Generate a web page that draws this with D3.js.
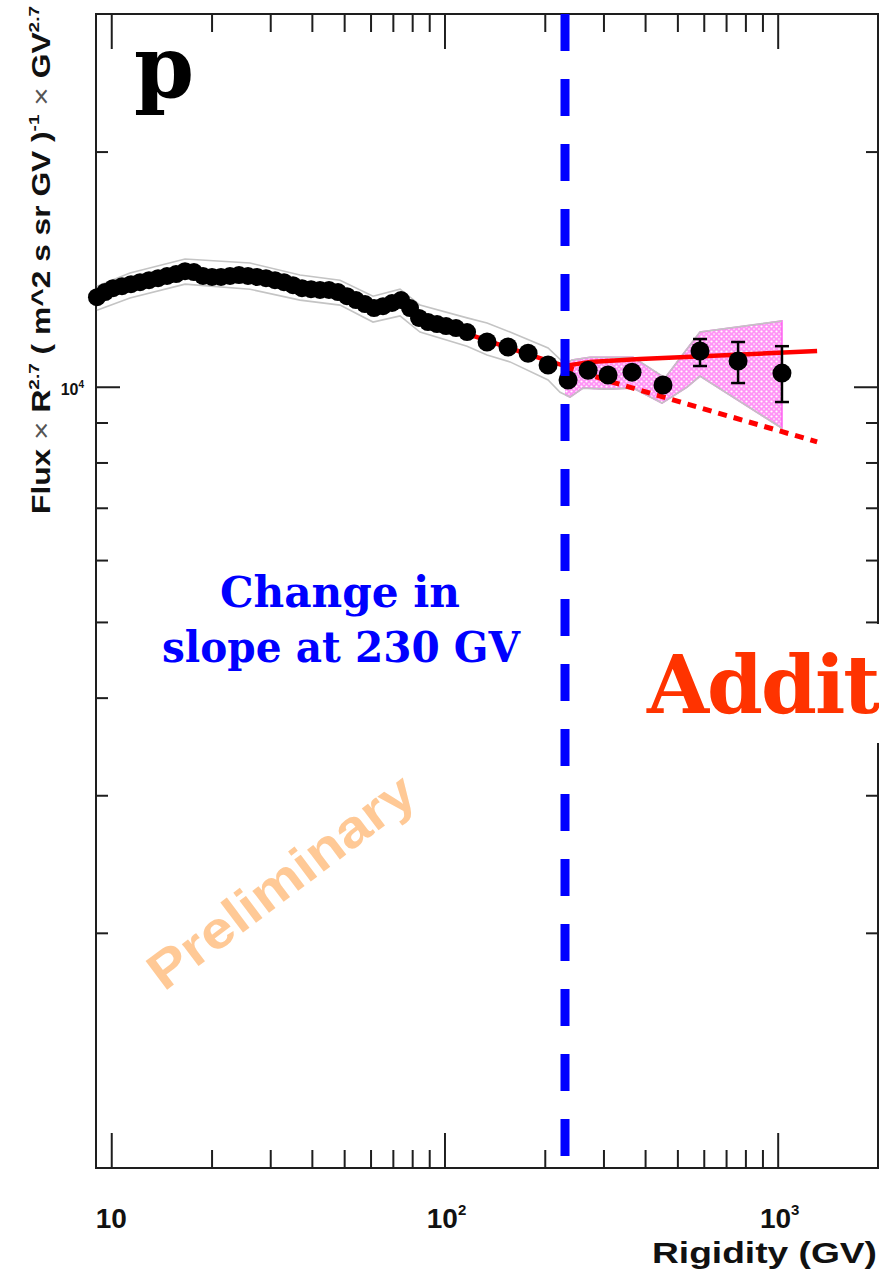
<!DOCTYPE html>
<html>
<head>
<meta charset="utf-8">
<script src="https://cdn.jsdelivr.net/npm/d3@7"></script>
<style>
  html, body { margin: 0; padding: 0; background: #fff; }
  svg { display: block; }
</style>
</head>
<body>
<svg id="chart" width="879" height="1271"></svg>
<script>
// Proton flux multiplied by R^2.7 versus rigidity (GV)
const rigidity = [9.06, 9.58, 10.12, 10.77, 11.46, 12.20, 12.98, 13.82, 14.70, 15.65,
  16.65, 17.71, 18.85, 20.06, 21.35, 22.72, 24.18, 25.73, 27.39, 29.14,
  31.01, 33.00, 35.11, 37.36, 39.77, 42.31, 45.03, 47.92, 50.99, 54.26,
  57.74, 61.45, 65.39, 69.60, 74.07, 78.82, 83.88, 89.26, 94.99, 101.1,
  108.3, 116.9, 134.2, 155.1, 178.2, 204.6, 234.9, 269.8, 309.7, 365.5,
  452.7, 584.7, 760.6, 1030];
const flux = [13020, 13220, 13370, 13450, 13530, 13610, 13690, 13770, 13860, 13940,
  14060, 14020, 13860, 13820, 13820, 13860, 13900, 13860, 13820, 13770,
  13690, 13610, 13490, 13370, 13330, 13300, 13300, 13220, 13060, 12910,
  12760, 12610, 12680, 12800, 12910, 12610, 12250, 12100, 12030, 11960,
  11890, 11750, 11410, 11240, 11040, 10660, 10200, 10500, 10350, 10440,
  10050, 11110, 10790, 10410];

// statistical error bars on the highest-rigidity points
const errRigidity = [584.7, 760.6, 1030];
const errLow = [10630, 10110, 9560];
const errHigh = [11510, 11410, 11270];

// systematic uncertainty band
const bandUpperR = [9.06, 11.38, 16.65, 26.09, 36.85, 48.60, 61.03, 73.56, 84.45, 116.9,
  134.2, 157.3, 204.6, 230.0, 241.4, 273.4, 368.1, 459.1, 545.7, 584.7, 1030];
const bandUpper = [13450, 13980, 14570, 14400, 13900, 13690, 13060, 13330, 12720, 12250,
  12070, 11750, 11210, 10690, 10820, 10910, 10910, 10260, 11310, 11750, 12140];
const bandLowerR = [9.06, 11.38, 16.65, 26.09, 36.85, 48.60, 61.03, 73.56, 84.45, 116.9,
  134.2, 157.3, 204.6, 222.3, 238.1, 260.5, 307.5, 368.1, 449.6, 534.5, 584.7, 1030];
const bandLower = [12530, 12990, 13530, 13330, 12910, 12720, 12100, 12320, 11750, 11270,
  10980, 10760, 10200, 9840, 9700, 9960, 9930, 9960, 9530, 9990, 10320, 8850];

// fits: broken power law (solid) and single power law extrapolation (dashed)
const fitSolidR = [100, 146.8, 193.5, 230, 273.4, 386.3, 509.2, 1313];
const fitSolid = [11960, 11310, 10880, 10630, 10760, 10850, 10910, 11110];
const fitDashedR = [230, 318.4, 1313];
const fitDashed = [10600, 10140, 8500];

const breakRigidity = 230;

// axis ticks and labels
const xMajor = [10, 100, 1000];
const xMinor = [20, 30, 40, 50, 60, 70, 80, 90, 200, 300, 400, 500, 600, 700, 800, 900];
const xLabelBase = ["10", "10", "10"];
const xLabelExp = ["", "2", "3"];
const yMajor = [10000];
const yMinor = [2000, 3000, 4000, 5000, 6000, 7000, 8000, 9000, 20000];
const yLabelBase = ["10"];
const yLabelExp = ["4"];

const L = 96, R = 878, T = 14, B = 1168;
const x = d3.scaleLog().domain([9, 2000]).range([L, R]);
const y = d3.scaleLog().domain([1000, 30000]).range([B, T]);

const svg = d3.select("#chart");
const defs = svg.append("defs");

// dotted magenta hatch
const pat = defs.append("pattern").attr("id", "dots").attr("patternUnits", "userSpaceOnUse")
  .attr("width", 5).attr("height", 5);
pat.append("rect").attr("width", 5).attr("height", 5).attr("fill", "#ff94f6");
pat.append("circle").attr("cx", 1.5).attr("cy", 1.5).attr("r", 1.1).attr("fill", "#ffffff");
pat.append("circle").attr("cx", 4).attr("cy", 4).attr("r", 0.9).attr("fill", "#ffe0fb");

defs.append("clipPath").attr("id", "aboveBreak").append("rect")
  .attr("x", x(breakRigidity)).attr("y", T).attr("width", R - x(breakRigidity)).attr("height", B - T);

const sans = "'Liberation Sans', Arial, Helvetica, sans-serif";
const serif = "'DejaVu Serif', serif";

// ---- ticks ----
function ticks(axisFn, values, size, tr) {
  svg.append("g").attr("transform", tr)
    .call(axisFn(axisFn === d3.axisBottom || axisFn === d3.axisTop ? x : y)
      .tickValues(values).tickSize(size).tickFormat(""))
    .call(a => a.select(".domain").remove())
    .call(a => a.selectAll("line").attr("stroke", "#1e1e1e").attr("stroke-width", 2));
}
ticks(d3.axisBottom, xMajor, -35, `translate(0,${B})`);
ticks(d3.axisBottom, xMinor, -18, `translate(0,${B})`);
ticks(d3.axisTop, xMajor, -35, `translate(0,${T})`);
ticks(d3.axisTop, xMinor, -18, `translate(0,${T})`);
ticks(d3.axisLeft, yMajor, -24, `translate(${L},0)`);
ticks(d3.axisLeft, yMinor, -12, `translate(${L},0)`);
ticks(d3.axisRight, yMajor, -24, `translate(${R},0)`);
ticks(d3.axisRight, yMinor, -12, `translate(${R},0)`);

svg.append("rect").attr("x", L).attr("y", T).attr("width", R - L).attr("height", B - T)
  .attr("fill", "none").attr("stroke", "#1e1e1e").attr("stroke-width", 2);

// ---- tick labels ----
xMajor.forEach((v, i) => {
  const t = svg.append("text").attr("x", x(v) + (xLabelExp[i] ? 2 : 0)).attr("y", 1228)
    .attr("text-anchor", "middle").attr("font-family", sans).attr("font-weight", "bold")
    .attr("font-size", 28).attr("fill", "#111");
  t.append("tspan").text(xLabelBase[i]);
  if (xLabelExp[i]) t.append("tspan").attr("dy", -13).attr("font-size", 15).text(xLabelExp[i]);
});
yMajor.forEach((v, i) => {
  const t = svg.append("text").attr("x", 84).attr("y", y(v) + 8)
    .attr("text-anchor", "end").attr("font-family", sans).attr("font-weight", "bold")
    .attr("font-size", 16).attr("fill", "#111");
  t.append("tspan").text(yLabelBase[i]);
  t.append("tspan").attr("dy", -7).attr("font-size", 10).text(yLabelExp[i]);
});

// ---- axis titles ----
svg.append("text").attr("x", 877).attr("y", 1263).attr("text-anchor", "end")
  .attr("font-family", sans).attr("font-weight", "bold").attr("font-size", 29).attr("fill", "#111")
  .attr("textLength", 225).attr("lengthAdjust", "spacingAndGlyphs")
  .text("Rigidity (GV)");

const yt = svg.append("text").attr("transform", "translate(50,6) rotate(-90)")
  .attr("text-anchor", "end").attr("font-family", sans).attr("font-weight", "bold")
  .attr("font-size", 25).attr("fill", "#111")
  .attr("textLength", 508).attr("lengthAdjust", "spacingAndGlyphs");
yt.append("tspan").text("Flux ");
yt.append("tspan").attr("font-weight", "normal").attr("fill", "#555").text("×");
yt.append("tspan").text(" R");
yt.append("tspan").attr("dy", -11).attr("font-size", 15).text("2.7");
yt.append("tspan").attr("dy", 11).text(" ( m^2 s sr GV )");
yt.append("tspan").attr("dy", -11).attr("font-size", 15).text("-1");
yt.append("tspan").attr("dy", 11).text(" ");
yt.append("tspan").attr("font-weight", "normal").attr("fill", "#555").text("×");
yt.append("tspan").text(" GV");
yt.append("tspan").attr("dy", -11).attr("font-size", 15).text("2.7");

// ---- systematic band ----
const upperPts = bandUpperR.map((r, i) => [x(r), y(bandUpper[i])]);
const lowerPts = bandLowerR.map((r, i) => [x(r), y(bandLower[i])]);
const poly = upperPts.concat(lowerPts.slice().reverse());
svg.append("path").attr("d", "M" + poly.join("L") + "Z")
  .attr("fill", "url(#dots)").attr("stroke", "#ff5cf2").attr("stroke-width", 1.5)
  .attr("clip-path", "url(#aboveBreak)");
const line = d3.line();
svg.append("path").attr("d", line(upperPts)).attr("fill", "none")
  .attr("stroke", "#c4c4c4").attr("stroke-width", 1.6);
svg.append("path").attr("d", line(lowerPts)).attr("fill", "none")
  .attr("stroke", "#c4c4c4").attr("stroke-width", 1.6);

// ---- fits ----
svg.append("path").attr("d", line(fitDashedR.map((r, i) => [x(r), y(fitDashed[i])])))
  .attr("fill", "none").attr("stroke", "#ff0000").attr("stroke-width", 5)
  .attr("stroke-dasharray", "9 7");
svg.append("path").attr("d", line(fitSolidR.map((r, i) => [x(r), y(fitSolid[i])])))
  .attr("fill", "none").attr("stroke", "#ff0000").attr("stroke-width", 4.5);

// ---- error bars ----
const eb = svg.append("g").attr("stroke", "#000").attr("stroke-width", 2.5);
errRigidity.forEach((r, i) => {
  const cx = x(r);
  eb.append("line").attr("x1", cx).attr("x2", cx).attr("y1", y(errHigh[i])).attr("y2", y(errLow[i]));
  eb.append("line").attr("x1", cx - 7).attr("x2", cx + 7).attr("y1", y(errHigh[i])).attr("y2", y(errHigh[i]));
  eb.append("line").attr("x1", cx - 7).attr("x2", cx + 7).attr("y1", y(errLow[i])).attr("y2", y(errLow[i]));
});

// ---- data points ----
svg.append("g").selectAll("circle").data(rigidity).join("circle")
  .attr("cx", d => x(d)).attr("cy", (d, i) => y(flux[i]))
  .attr("r", (d, i) => i < 42 ? 9 : 9.5).attr("fill", "#000");

// ---- break marker ----
svg.append("line").attr("x1", x(breakRigidity)).attr("x2", x(breakRigidity))
  .attr("y1", T).attr("y2", B).attr("stroke", "#0000ff").attr("stroke-width", 9)
  .attr("stroke-dasharray", "37 28");

// ---- annotations ----
svg.append("text").attr("x", 134).attr("y", 97).attr("font-family", serif)
  .attr("font-weight", "bold").attr("font-size", 86).attr("fill", "#000").text("p");

const blue = svg.append("g").attr("font-family", serif).attr("font-weight", "bold")
  .attr("font-size", 42).attr("fill", "#0000ff").attr("text-anchor", "middle");
blue.append("text").attr("x", 340).attr("y", 607).attr("textLength", 240)
  .attr("lengthAdjust", "spacingAndGlyphs").text("Change in");
blue.append("text").attr("x", 341).attr("y", 662).attr("textLength", 358)
  .attr("lengthAdjust", "spacingAndGlyphs").text("slope at 230 GV");

svg.append("text").attr("transform", "translate(164,992) rotate(-37)")
  .attr("font-family", sans).attr("font-weight", "bold").attr("font-size", 52)
  .attr("fill", "#ffc996").attr("textLength", 320).attr("lengthAdjust", "spacingAndGlyphs")
  .text("Preliminary");

// heading panel that continues past the right edge
svg.append("rect").attr("x", 640).attr("y", 624).attr("width", 239).attr("height", 119)
  .attr("fill", "#fff");
svg.append("text").attr("x", 647).attr("y", 713).attr("font-family", serif)
  .attr("font-weight", "bold").attr("font-size", 80).attr("letter-spacing", -2)
  .attr("fill", "#ff3300")
  .text("Additional");
</script>
</body>
</html>
